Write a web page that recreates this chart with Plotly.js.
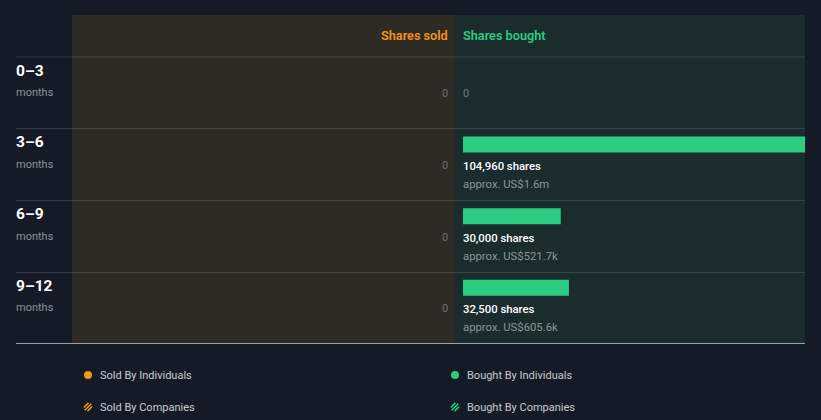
<!DOCTYPE html>
<html>
<head>
<meta charset="utf-8">
<script src="https://cdn.plot.ly/plotly-3.0.1.min.js"></script>
<style>
html,body{margin:0;padding:0;background:#151b26;}
#chart{width:821px;height:420px;}
</style>
</head>
<body>
<div id="chart"></div>
<script>
// ---- data ----
const periods = ['0–3', '3–6', '6–9', '9–12'];
const periodUnit = 'months';
const soldShares = [0, 0, 0, 0];
const boughtShares = [0, 104960, 30000, 32500];
const boughtValue = ['', 'US$1.6m', 'US$521.7k', 'US$605.6k'];
const legendLabels = ['Sold By Individuals', 'Sold By Companies', 'Bought By Individuals', 'Bought By Companies'];

// ---- styling ----
const W = 821, H = 420;
const px = v => v / W;
const py = v => 1 - v / H;
const ORANGE = '#f7931a';
const GREEN = '#2ecc80';
const FONT = 'Roboto, "Open Sans", sans-serif';
const idx = periods.map((_, i) => i);
const L = -2, R = 3; // annotation padding compensation

const traces = [
  {
    type: 'bar', orientation: 'h', x: boughtShares, y: idx,
    xaxis: 'x', yaxis: 'y', marker: {color: GREEN},
    width: 16 / 72, offset: -0.5 + 8 / 72, hoverinfo: 'none', showlegend: false
  },
  {
    type: 'bar', orientation: 'h', x: soldShares, y: idx,
    xaxis: 'x2', yaxis: 'y', marker: {color: ORANGE},
    width: 16 / 72, offset: -0.5 + 8 / 72, hoverinfo: 'none', showlegend: false
  }
];

const shapes = [
  {type: 'rect', xref: 'paper', yref: 'paper', x0: px(72), x1: px(455), y0: py(343), y1: py(15), fillcolor: '#2e2a24', line: {width: 0}, layer: 'below'},
  {type: 'rect', xref: 'paper', yref: 'paper', x0: px(455), x1: px(805), y0: py(343), y1: py(15), fillcolor: '#1a2c2e', line: {width: 0}, layer: 'below'}
];
[57, 128.5, 200.5, 272.5].forEach(y => shapes.push({
  type: 'line', xref: 'paper', yref: 'paper', x0: px(16), x1: px(805), y0: py(y), y1: py(y),
  line: {color: 'rgba(255,255,255,0.13)', width: 1}
}));
shapes.push({type: 'line', xref: 'paper', yref: 'paper', x0: px(16), x1: px(805), y0: py(343.5), y1: py(343.5), line: {color: '#9aa0a6', width: 1}});

const annotations = [
  {text: 'Shares sold', xref: 'paper', yref: 'paper', x: px(447), xshift: R, y: py(35), xanchor: 'right', yanchor: 'middle', showarrow: false, font: {family: FONT, size: 12.7, weight: 600, color: ORANGE}},
  {text: 'Shares bought', xref: 'paper', yref: 'paper', x: px(463), xshift: L, y: py(35), xanchor: 'left', yanchor: 'middle', showarrow: false, font: {family: FONT, size: 12.7, weight: 600, color: GREEN}}
];

periods.forEach((p, i) => {
  annotations.push({text: '<b>' + p + '</b>', xref: 'paper', yref: 'y', x: px(16), xshift: L, y: i, yshift: 22, xanchor: 'left', yanchor: 'middle', showarrow: false, font: {family: FONT, size: 15.5, color: '#ffffff'}});
  annotations.push({text: periodUnit, xref: 'paper', yref: 'y', x: px(16), xshift: L, y: i, yshift: 0, xanchor: 'left', yanchor: 'middle', showarrow: false, font: {family: FONT, size: 11, color: '#8b9099'}});
  annotations.push({text: String(soldShares[i]), xref: 'paper', yref: 'y', x: px(447), xshift: R, y: i, yshift: -1, xanchor: 'right', yanchor: 'middle', showarrow: false, font: {family: FONT, size: 11, color: '#6e7074'}});
  if (boughtShares[i] === 0) {
    annotations.push({text: '0', xref: 'paper', yref: 'y', x: px(463), xshift: L, y: i, yshift: -1, xanchor: 'left', yanchor: 'middle', showarrow: false, font: {family: FONT, size: 11, color: '#6e7c7c'}});
  } else {
    annotations.push({text: boughtShares[i].toLocaleString('en-US') + ' shares', xref: 'paper', yref: 'y', x: px(463), xshift: L, y: i, yshift: -2, xanchor: 'left', yanchor: 'middle', showarrow: false, font: {family: FONT, size: 11.3, weight: 500, color: '#ffffff'}});
    annotations.push({text: 'approx. ' + boughtValue[i], xref: 'paper', yref: 'y', x: px(463), xshift: L, y: i, yshift: -20, xanchor: 'left', yanchor: 'middle', showarrow: false, font: {family: FONT, size: 11.3, color: '#8b9699'}});
  }
});

// legend
const legendPos = [[88, 375], [88, 407], [455, 375], [455, 407]];
const legendColors = [ORANGE, ORANGE, GREEN, GREEN];
legendLabels.forEach((lab, i) => {
  const [cx, cy] = legendPos[i];
  const c = legendColors[i];
  if (i % 2 === 0) {
    shapes.push({type: 'circle', xref: 'paper', yref: 'paper', x0: px(cx - 4), x1: px(cx + 4), y0: py(cy + 4), y1: py(cy - 4), fillcolor: c, line: {width: 0}});
  } else {
    [-2.6, 0, 2.6].forEach(d => {
      const half = d === 0 ? 3.3 : 2.3;
      const ox = d * 0.7071, oy = d * 0.7071;
      shapes.push({type: 'line', xref: 'paper', yref: 'paper',
        x0: px(cx + ox - half), y0: py(cy + oy + half),
        x1: px(cx + ox + half), y1: py(cy + oy - half),
        line: {color: c, width: 1.5}});
    });
  }
  annotations.push({text: lab, xref: 'paper', yref: 'paper', x: px(cx + 12), xshift: L, y: py(cy), xanchor: 'left', yanchor: 'middle', showarrow: false, font: {family: FONT, size: 11, color: '#c9ccd1'}});
});

const layout = {
  width: W, height: H,
  margin: {l: 0, r: 0, t: 0, b: 0},
  paper_bgcolor: '#151b26', plot_bgcolor: 'rgba(0,0,0,0)',
  showlegend: false,
  barmode: 'overlay',
  xaxis: {domain: [px(463), px(805)], range: [0, Math.max(...boughtShares)], visible: false, fixedrange: true},
  xaxis2: {domain: [px(72), px(447)], range: [Math.max(...boughtShares), 0], visible: false, fixedrange: true},
  yaxis: {domain: [py(343.5), py(57)], range: [periods.length - 0.5, -0.5], visible: false, fixedrange: true},
  shapes: shapes,
  annotations: annotations,
  font: {family: FONT}
};

Plotly.newPlot('chart', traces, layout, {displayModeBar: false, staticPlot: true});
</script>
</body>
</html>
